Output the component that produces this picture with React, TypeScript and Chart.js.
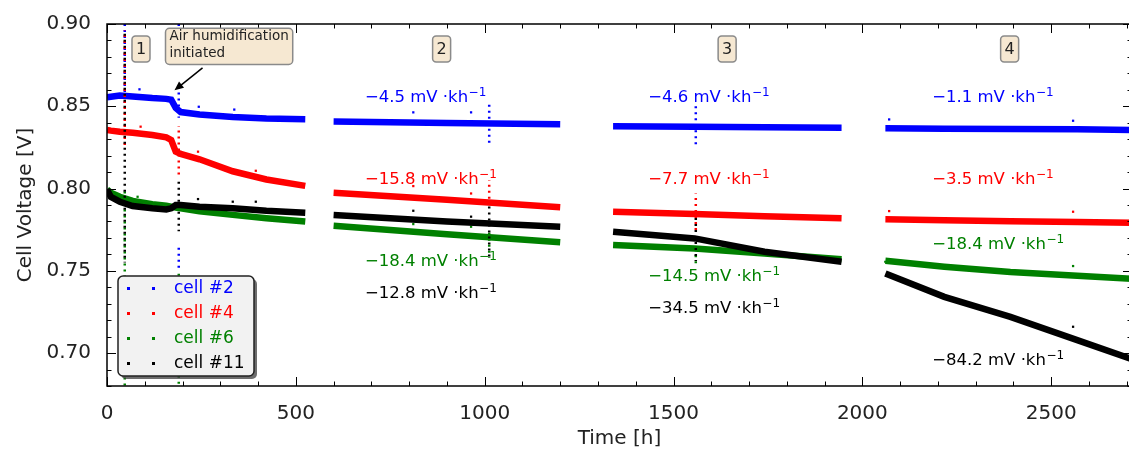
import React, { useEffect, useRef } from "react";
import { Chart, registerables } from "chart.js";

Chart.register(...registerables);

const FONT = "'DejaVu Sans', 'Liberation Sans', sans-serif";

const cellNames = ["cell #2", "cell #4", "cell #6", "cell #11"];
const cellColors = ["#0000ff", "#ff0000", "#008000", "#000000"];

// measurement times [h]; null voltages mark the breaks between the four test blocks
const timeH = [0, 10, 34, 68, 120, 157, 170, 182, 195, 245, 333, 422, 525, 560, 600, 900, 1200, 1270, 1340, 1556, 1741, 1945, 2000, 2061, 2217, 2392, 2569, 2712];

const cell2V = [0.8555, 0.8558, 0.8565, 0.856, 0.855, 0.8545, 0.854, 0.849, 0.8465, 0.845, 0.8435, 0.8425, 0.8421, null, 0.8407, 0.8398, 0.839, null, 0.8378, 0.8375, 0.8373, 0.837, null, 0.8366, 0.8364, 0.8362, 0.836, 0.8356];
const cell4V = [0.8356, 0.8352, 0.8345, 0.8339, 0.8325, 0.8311, 0.8295, 0.8224, 0.821, 0.8178, 0.8105, 0.8055, 0.8016, null, 0.7975, 0.7932, 0.7886, null, 0.7859, 0.7845, 0.7832, 0.7819, null, 0.7813, 0.7808, 0.7802, 0.7797, 0.7792];
const cell6V = [0.7995, 0.7975, 0.795, 0.7925, 0.7905, 0.7895, 0.789, 0.7885, 0.788, 0.7862, 0.784, 0.782, 0.78, null, 0.7774, 0.7722, 0.7673, null, 0.7657, 0.7636, 0.7605, 0.757, null, 0.7561, 0.7525, 0.7493, 0.747, 0.7452];
const cell11V = [0.7995, 0.795, 0.792, 0.7894, 0.788, 0.7873, 0.788, 0.79, 0.79, 0.789, 0.788, 0.7865, 0.7853, null, 0.7839, 0.78, 0.7768, null, 0.7737, 0.7697, 0.7616, 0.7555, null, 0.7484, 0.7342, 0.722, 0.7079, 0.6965];

// vertical outlier streaks: [time, upper V, lower V]
const cell2Spikes = [[47, 0.9, 0.852], [190, 0.9, 0.884], [190, 0.862, 0.843], [190, 0.764, 0.75], [1012, 0.851, 0.826], [1559, 0.85, 0.825]];
const cell4Spikes = [[47, 0.896, 0.826], [190, 0.838, 0.808], [1012, 0.805, 0.789], [1559, 0.797, 0.773]];
const cell6Spikes = [[47, 0.8, 0.68], [190, 0.75, 0.68], [1012, 0.775, 0.758], [1559, 0.765, 0.754], [2061, 0.758, 0.754]];
const cell11Spikes = [[47, 0.895, 0.755], [190, 0.805, 0.774], [1012, 0.79, 0.758], [1559, 0.783, 0.756]];

// isolated outlier points: [time, V]
const cell2Outliers = [[86, 0.8603], [243, 0.8497], [337, 0.848], [811, 0.8463], [964, 0.8463], [2071, 0.842], [2558, 0.8412]];
const cell4Outliers = [[89, 0.8376], [241, 0.8224], [394, 0.8108], [811, 0.8015], [964, 0.797], [2071, 0.7863], [2558, 0.7859]];
const cell6Outliers = [[81, 0.795], [811, 0.7784], [964, 0.7768], [2558, 0.7529]];
const cell11Outliers = [[241, 0.7936], [333, 0.792], [394, 0.792], [811, 0.7865], [964, 0.7829], [2558, 0.716]];

const xTicks = [0, 500, 1000, 1500, 2000, 2500];
const yTicks = [0.7, 0.75, 0.8, 0.85, 0.9];

const regionNames = ["1", "2", "3", "4"];
const regionT = [90, 886, 1642, 2390];

// degradation rates per block 2..4 [mV/kh]
const cell2Rates = ["−4.5", "−4.6", "−1.1"];
const cell4Rates = ["−15.8", "−7.7", "−3.5"];
const cell6Rates = ["−18.4", "−14.5", "−18.4"];
const cell11Rates = ["−12.8", "−34.5", "−84.2"];

export default function App() {
  const ref = useRef<HTMLCanvasElement>(null);

  useEffect(() => {
    document.body.style.margin = "0";
    const canvas = ref.current;
    if (!canvas) return;

    const values = [cell2V, cell4V, cell6V, cell11V];
    const spikes = [cell2Spikes, cell4Spikes, cell6Spikes, cell11Spikes];
    const outliers = [cell2Outliers, cell4Outliers, cell6Outliers, cell11Outliers];
    const rates = [cell2Rates, cell4Rates, cell6Rates, cell11Rates];

    const datasets: any[] = [];
    values.forEach((vals, i) => {
      datasets.push({
        type: "line",
        label: cellNames[i],
        data: timeH.map((t, k) => ({ x: t, y: vals[k] })),
        borderColor: cellColors[i],
        backgroundColor: cellColors[i],
        borderWidth: 6.5,
        pointRadius: 0,
        spanGaps: false,
        tension: 0,
        order: 3 - i,
      });
      const sp: any[] = [];
      spikes[i].forEach(([t, a, b]) => {
        sp.push({ x: t, y: a }, { x: t, y: b }, { x: t, y: null });
      });
      datasets.push({
        type: "line",
        data: sp,
        borderColor: cellColors[i],
        borderWidth: 2.5,
        borderDash: [2, 4],
        borderDashOffset: i * 1.5,
        pointRadius: 0,
        spanGaps: false,
        order: 3 - i,
      });
      datasets.push({
        type: "scatter",
        data: outliers[i].map(([t, v]) => ({ x: t, y: v })),
        pointRadius: 1.6,
        pointStyle: "rect",
        backgroundColor: cellColors[i],
        borderWidth: 0,
        order: 3 - i,
      });
    });

    const roundRect = (ctx: CanvasRenderingContext2D, x: number, y: number, w: number, h: number, r: number) => {
      ctx.beginPath();
      ctx.moveTo(x + r, y);
      ctx.arcTo(x + w, y, x + w, y + h, r);
      ctx.arcTo(x + w, y + h, x, y + h, r);
      ctx.arcTo(x, y + h, x, y, r);
      ctx.arcTo(x, y, x + w, y, r);
      ctx.closePath();
    };

    const framePlugin = {
      id: "frame",
      afterDatasetsDraw(chart: any) {
        const { ctx, chartArea: a, scales } = chart;
        const xs = scales.x;
        const ys = scales.y;
        ctx.save();
        ctx.strokeStyle = "#000";
        ctx.lineWidth = 1.5;
        ctx.strokeRect(a.left, a.top, a.right - a.left, a.bottom - a.top);
        ctx.lineWidth = 1;
        const seg = (x1: number, y1: number, x2: number, y2: number) => {
          ctx.beginPath();
          ctx.moveTo(x1, y1);
          ctx.lineTo(x2, y2);
          ctx.stroke();
        };
        for (let t = 0; t <= 2700; t += 100) {
          const px = Math.round(xs.getPixelForValue(t)) + 0.5;
          const len = t % 500 === 0 ? 9 : 4.5;
          seg(px, a.bottom, px, a.bottom - len);
          seg(px, a.top, px, a.top + len);
        }
        for (let k = 68; k <= 90; k++) {
          const py = Math.round(ys.getPixelForValue(k / 100)) + 0.5;
          const len = k % 5 === 0 ? 9 : 4.5;
          seg(a.left, py, a.left + len, py);
          seg(a.right, py, a.right - len, py);
        }
        ctx.restore();
      },
      afterDraw(chart: any) {
        const { ctx, chartArea: a, scales } = chart;
        const xs = scales.x;
        const ys = scales.y;
        ctx.save();

        // region number boxes
        ctx.font = `16px ${FONT}`;
        ctx.textAlign = "center";
        ctx.textBaseline = "middle";
        regionNames.forEach((n, i) => {
          const cx = xs.getPixelForValue(regionT[i]);
          const cy = ys.getPixelForValue(0.8848);
          roundRect(ctx, cx - 9, cy - 13, 18, 26, 3.5);
          ctx.fillStyle = "#f6e8d2";
          ctx.fill();
          ctx.strokeStyle = "#8a8a8a";
          ctx.lineWidth = 1.5;
          ctx.stroke();
          ctx.fillStyle = "#222";
          ctx.fillText(n, cx, cy + 1);
        });

        // humidification note
        ctx.font = `13.5px ${FONT}`;
        ctx.textAlign = "left";
        const tx = xs.getPixelForValue(165.5);
        const l1 = ys.getPixelForValue(0.8922);
        const l2 = ys.getPixelForValue(0.8818);
        const w = Math.max(ctx.measureText("Air humidification").width, ctx.measureText("initiated").width);
        roundRect(ctx, tx - 4, l1 - 8.5, w + 8, l2 - l1 + 19, 4);
        ctx.fillStyle = "#f6e8d2";
        ctx.fill();
        ctx.strokeStyle = "#8a8a8a";
        ctx.lineWidth = 1.5;
        ctx.stroke();
        ctx.fillStyle = "#222";
        ctx.fillText("Air humidification", tx, l1);
        ctx.fillText("initiated", tx, l2);

        // arrow
        const ax1 = xs.getPixelForValue(253);
        const ay1 = ys.getPixelForValue(0.8733);
        const ax2 = xs.getPixelForValue(178.7);
        const ay2 = ys.getPixelForValue(0.8597);
        const ang = Math.atan2(ay2 - ay1, ax2 - ax1);
        ctx.strokeStyle = "#000";
        ctx.fillStyle = "#000";
        ctx.lineWidth = 1.5;
        ctx.beginPath();
        ctx.moveTo(ax1, ay1);
        ctx.lineTo(ax2 - 6 * Math.cos(ang), ay2 - 6 * Math.sin(ang));
        ctx.stroke();
        ctx.beginPath();
        ctx.moveTo(ax2, ay2);
        ctx.lineTo(ax2 - 9 * Math.cos(ang) + 4 * Math.sin(ang), ay2 - 9 * Math.sin(ang) - 4 * Math.cos(ang));
        ctx.lineTo(ax2 - 9 * Math.cos(ang) - 4 * Math.sin(ang), ay2 - 9 * Math.sin(ang) + 4 * Math.cos(ang));
        ctx.closePath();
        ctx.fill();

        // rate labels
        const blockT = [683, 1433, 2185];
        const labelV = [
          [0.855, 0.855, 0.855],
          [0.8052, 0.8052, 0.8052],
          [0.7555, 0.7463, 0.7656],
          [0.7362, 0.7271, 0.6955],
        ];
        ctx.textBaseline = "middle";
        rates.forEach((r, i) => {
          ctx.fillStyle = cellColors[i];
          r.forEach((txt, b) => {
            const px = xs.getPixelForValue(blockT[b]);
            const py = ys.getPixelForValue(labelV[i][b]);
            ctx.font = `16.5px ${FONT}`;
            const base = `${txt} mV ·kh`;
            ctx.fillText(base, px, py);
            const bw = ctx.measureText(base).width;
            ctx.font = `12px ${FONT}`;
            ctx.fillText("−1", px + bw + 0.5, py - 5);
          });
        });

        // legend
        const lx = a.left + 11;
        const ly = a.bottom - 110;
        const lw = 136;
        const lh = 100;
        roundRect(ctx, lx + 3, ly + 3, lw, lh, 5);
        ctx.fillStyle = "rgba(60,60,60,0.75)";
        ctx.fill();
        roundRect(ctx, lx, ly, lw, lh, 5);
        ctx.fillStyle = "#f2f2f2";
        ctx.fill();
        ctx.strokeStyle = "#222";
        ctx.lineWidth = 1.5;
        ctx.stroke();
        ctx.font = `17px ${FONT}`;
        cellNames.forEach((n, i) => {
          const ry = ly + 12.5 + i * 25;
          ctx.fillStyle = cellColors[i];
          ctx.fillRect(lx + 9, ry - 1.5, 3, 3);
          ctx.fillRect(lx + 34, ry - 1.5, 3, 3);
          ctx.fillText(n, lx + 56, ry);
        });

        ctx.restore();
      },
    };

    const chart = new Chart(canvas, {
      type: "line",
      data: { datasets },
      options: {
        animation: false,
        responsive: false,
        layout: { padding: { top: 24, left: 0, right: 1, bottom: 0 } },
        plugins: { legend: { display: false }, tooltip: { enabled: false } },
        scales: {
          x: {
            type: "linear",
            min: 0,
            max: 2714,
            grid: { display: false },
            border: { display: false },
            ticks: {
              font: { family: FONT, size: 20 },
              color: "#222",
              padding: 8,
              maxRotation: 0,
              callback: (v: any) => String(v),
            },
            afterBuildTicks: (s: any) => {
              s.ticks = xTicks.map((v) => ({ value: v }));
            },
            afterFit: (s: any) => {
              s.height = 65;
            },
            title: {
              display: true,
              text: "Time [h]",
              font: { family: FONT, size: 20 },
              color: "#222",
              padding: { top: 0, bottom: 0 },
            },
          },
          y: {
            type: "linear",
            min: 0.68,
            max: 0.9,
            grid: { display: false },
            border: { display: false },
            ticks: {
              font: { family: FONT, size: 20 },
              color: "#222",
              padding: 8,
              callback: (v: any) => Number(v).toFixed(2),
            },
            afterBuildTicks: (s: any) => {
              s.ticks = yTicks.map((v) => ({ value: v }));
            },
            afterFit: (s: any) => {
              s.width = 107;
            },
            title: {
              display: true,
              text: "Cell Voltage [V]",
              font: { family: FONT, size: 20 },
              color: "#222",
              padding: { top: 14, bottom: 0 },
            },
          },
        },
      } as any,
      plugins: [framePlugin as any],
    });

    return () => chart.destroy();
  }, []);

  return (
    <div style={{ width: 1129, height: 451, overflow: "hidden" }}>
      <canvas ref={ref} width={1136} height={451} style={{ display: "block" }} />
    </div>
  );
}
